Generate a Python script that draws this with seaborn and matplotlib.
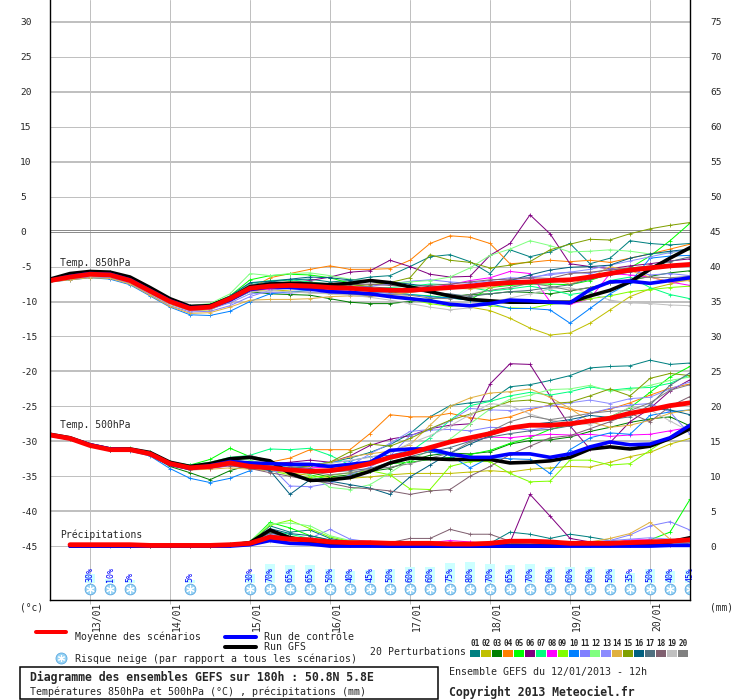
import numpy as np
import pandas as pd
import matplotlib
matplotlib.use("Agg")
import matplotlib.pyplot as plt
from matplotlib.lines import Line2D
from matplotlib.patches import Rectangle
import seaborn as sns

nan = np.nan
hours = list(range(0, 193, 6))   # 12/01 12h -> 20/01 12h, every 6 h
day_ticks = [12, 36, 60, 84, 108, 132, 156, 180]
day_labels = ["13/01", "14/01", "15/01", "16/01", "17/01", "18/01", "19/01", "20/01"]

member_names = ["%02d" % k for k in range(1, 21)]
member_colors = ["#008080", "#c0c000", "#008000", "#ff8000", "#00ff00", "#800080", "#00ff80",
                 "#ff00ff", "#80ff00", "#0080ff", "#8080ff", "#80ff80", "#8c8cff", "#e0b040",
                 "#80a000", "#006080", "#507080", "#806070", "#c0c0c0", "#808080"]

# ---------------- Temp 850 hPa (deg C) ----------------
t850_mean = [-7.0,-6.5,-6.1,-6.2,-7.0,-8.5,-10.0,-11.0,-10.8,-9.6,-8.1,-7.8,-7.7,-7.8,-8.0,-8.1,-8.3,-8.4,-8.4,-8.2,-8.0,-7.8,-7.5,-7.3,-7.2,-7.0,-6.9,-6.5,-6.0,-5.5,-5.2,-4.9,-4.7]
t850_ctrl = [-7.0,-6.4,-6.0,-6.1,-6.9,-8.4,-9.9,-10.9,-10.8,-9.8,-8.3,-7.9,-8.0,-8.2,-8.6,-8.7,-8.9,-9.3,-9.6,-9.9,-10.4,-10.6,-10.3,-9.8,-9.9,-10.1,-10.2,-8.3,-7.2,-7.1,-7.4,-7.0,-6.6]
t850_gfs = [-6.8,-6.0,-5.7,-5.8,-6.5,-8.0,-9.6,-10.7,-10.6,-9.5,-7.9,-7.5,-7.4,-7.5,-7.6,-7.4,-7.0,-7.3,-7.9,-8.6,-9.2,-9.7,-9.9,-10.1,-10.1,-10.1,-10.1,-9.2,-8.4,-7.2,-5.4,-3.8,-2.3]
t850_members = [
    [-6.9,-6.2,-5.8,-5.9,-6.7,-8.2,-9.8,-10.8,-10.5,-9.3,-7.6,-7.2,-6.9,-6.8,-7.2,-7.0,-6.5,-6.3,-5.0,-3.6,-3.3,-4.3,-6.0,-2.6,-3.6,-2.9,-1.7,-4.6,-3.8,-1.3,-1.7,-1.9,-1.7],
    [-7.1,-6.7,-6.4,-6.5,-7.3,-8.8,-10.4,-11.3,-11.2,-10.0,-8.5,-8.3,-8.5,-8.7,-8.9,-9.0,-8.8,-9.2,-9.4,-10.0,-10.5,-10.8,-11.3,-12.4,-13.8,-14.8,-14.5,-13.1,-11.2,-9.3,-8.2,-7.5,-6.8],
    [-7.0,-6.6,-6.3,-6.4,-7.2,-8.6,-10.1,-11.1,-11.0,-9.9,-8.6,-8.9,-9.0,-9.1,-9.6,-10.1,-10.3,-10.3,-10.0,-9.6,-9.3,-9.0,-8.9,-8.6,-8.7,-8.9,-8.5,-8.0,-7.4,-7.0,-6.4,-5.9,-5.6],
    [-7.0,-6.6,-6.2,-6.3,-7.1,-8.5,-10.1,-11.0,-10.9,-9.7,-8.2,-6.6,-6.0,-5.4,-4.9,-5.4,-5.4,-5.3,-4.1,-1.7,-0.6,-0.8,-1.7,-4.6,-4.4,-4.1,-4.3,-4.1,-4.4,-3.8,-3.2,-2.5,-1.8],
    [-6.8,-6.3,-6.0,-6.0,-6.8,-8.1,-9.7,-10.6,-10.4,-9.2,-6.9,-6.3,-6.1,-6.2,-6.6,-7.4,-8.0,-8.6,-9.0,-9.2,-9.5,-9.8,-8.0,-7.7,-7.5,-7.5,-7.6,-7.0,-6.0,-5.2,-3.5,-1.3,1.2],
    [-7.0,-6.5,-6.1,-6.2,-7.0,-8.5,-10.0,-10.9,-10.7,-9.5,-8.0,-7.6,-7.3,-7.0,-6.5,-5.8,-5.6,-4.1,-5.0,-6.1,-6.5,-6.4,-3.4,-1.7,2.4,-0.3,-4.6,-5.0,-5.3,-4.9,-4.6,-4.2,-3.9],
    [-6.9,-6.4,-6.0,-6.1,-6.9,-8.4,-9.9,-10.9,-10.6,-9.3,-7.4,-7.0,-6.9,-7.2,-7.5,-7.9,-8.2,-8.0,-7.8,-7.5,-7.6,-8.0,-8.5,-8.2,-7.8,-8.3,-9.0,-8.6,-7.0,-6.5,-8.0,-9.0,-9.6],
    [-7.1,-6.6,-6.2,-6.3,-7.2,-8.7,-10.2,-11.2,-11.0,-9.9,-8.4,-8.2,-8.0,-8.0,-8.4,-8.3,-8.2,-8.5,-8.3,-8.0,-7.6,-7.0,-6.6,-5.7,-6.0,-10.0,-10.4,-9.6,-6.0,-6.2,-6.5,-7.2,-7.7],
    [-6.9,-6.5,-6.2,-6.2,-7.0,-8.4,-10.0,-11.0,-10.7,-9.4,-7.8,-7.5,-7.8,-8.2,-8.5,-8.7,-8.9,-9.3,-9.7,-10.3,-10.7,-10.5,-10.6,-10.9,-11.0,-10.4,-10.2,-9.6,-9.2,-8.6,-8.3,-8.0,-7.8],
    [-7.2,-6.9,-6.6,-6.8,-7.6,-9.2,-10.8,-11.9,-12.0,-11.4,-10.0,-8.9,-8.6,-8.4,-8.5,-8.6,-8.7,-8.8,-9.0,-9.3,-9.5,-9.8,-10.3,-11.0,-11.0,-11.2,-13.1,-11.0,-8.9,-7.3,-3.8,-3.5,-3.4],
    [-7.2,-6.8,-6.5,-6.6,-7.4,-9.0,-10.6,-11.5,-11.4,-10.6,-9.3,-8.4,-8.1,-8.0,-8.2,-8.0,-7.8,-7.5,-7.1,-6.9,-7.2,-7.4,-7.0,-6.6,-6.7,-6.0,-5.8,-6.0,-5.3,-5.5,-6.2,-6.0,-6.3],
    [-6.8,-6.2,-5.8,-5.8,-6.6,-8.0,-9.6,-10.6,-10.3,-8.9,-6.0,-6.3,-6.0,-5.9,-6.3,-6.8,-7.1,-7.4,-7.2,-7.0,-6.5,-5.2,-3.4,-2.5,-1.3,-2.0,-2.9,-2.8,-2.6,-2.8,-3.2,-3.0,-2.6],
    [-7.1,-6.7,-6.4,-6.5,-7.3,-8.8,-10.3,-11.3,-11.1,-10.2,-8.9,-8.7,-8.8,-8.6,-8.8,-9.0,-9.1,-8.9,-8.7,-8.4,-8.0,-7.6,-7.2,-7.0,-6.5,-6.2,-5.8,-5.4,-4.8,-4.2,-3.6,-3.0,-2.5],
    [-7.2,-6.9,-6.6,-6.7,-7.5,-9.1,-10.7,-11.7,-11.6,-10.8,-9.8,-9.7,-9.7,-9.6,-9.3,-9.2,-9.3,-9.0,-8.7,-8.3,-8.1,-8.2,-8.0,-7.4,-7.2,-6.8,-7.5,-6.6,-5.0,-5.6,-6.5,-7.2,-7.0],
    [-7.0,-6.5,-6.1,-6.2,-7.0,-8.4,-9.9,-10.9,-10.6,-9.4,-7.8,-7.4,-7.2,-7.3,-7.6,-7.8,-7.6,-7.3,-6.6,-3.3,-4.1,-4.4,-5.2,-4.8,-4.3,-2.6,-1.8,-1.1,-1.2,-0.3,0.4,0.9,1.3],
    [-6.9,-6.4,-6.0,-6.1,-6.9,-8.3,-9.8,-10.8,-10.5,-9.2,-7.3,-7.1,-6.8,-6.5,-6.6,-6.9,-7.0,-7.2,-7.5,-7.9,-8.0,-7.8,-7.5,-7.0,-6.2,-5.5,-5.1,-5.0,-4.8,-3.8,-3.2,-2.8,-2.5],
    [-6.8,-6.2,-5.8,-5.9,-6.7,-8.2,-9.8,-10.7,-10.5,-9.3,-7.7,-7.3,-7.5,-7.7,-7.9,-8.0,-7.9,-8.1,-8.4,-8.7,-8.9,-9.3,-8.9,-8.6,-8.4,-8.0,-7.6,-6.8,-6.2,-5.8,-5.0,-4.3,-3.6],
    [-6.9,-6.3,-5.9,-6.0,-6.8,-8.3,-9.9,-10.8,-10.6,-9.4,-7.9,-7.7,-7.5,-7.4,-7.7,-7.6,-7.5,-7.7,-7.9,-7.7,-7.5,-7.2,-6.9,-6.8,-6.6,-6.7,-6.0,-5.8,-5.5,-5.2,-4.9,-5.0,-4.6],
    [-7.1,-6.7,-6.3,-6.4,-7.2,-8.7,-10.3,-11.2,-11.0,-9.9,-8.6,-8.5,-8.6,-8.8,-8.9,-9.1,-9.4,-9.8,-10.3,-10.8,-11.2,-10.9,-10.2,-9.5,-8.9,-8.2,-8.0,-8.8,-9.8,-10.2,-10.3,-10.5,-10.6],
    [-6.8,-6.1,-5.7,-5.8,-6.6,-8.1,-9.7,-10.7,-10.5,-9.4,-7.6,-7.6,-7.8,-8.3,-8.5,-8.9,-9.2,-9.0,-9.1,-9.5,-9.6,-9.0,-8.4,-8.0,-7.4,-7.8,-8.4,-8.0,-7.4,-6.8,-6.5,-6.6,-6.4],
]

# ---------------- Temp 500 hPa (deg C) ----------------
t500_mean = [-29.1,-29.6,-30.6,-31.2,-31.2,-31.8,-33.2,-33.8,-33.6,-33.1,-33.6,-33.8,-34.1,-34.3,-34.2,-33.8,-33.2,-32.3,-31.7,-30.9,-30.1,-29.5,-28.9,-28.1,-27.7,-27.7,-27.5,-27.1,-26.7,-26.0,-25.5,-24.9,-24.5]
t500_ctrl = [-29.1,-29.6,-30.5,-31.1,-31.2,-31.8,-33.3,-33.9,-33.5,-32.9,-33.1,-33.2,-33.3,-33.3,-33.6,-33.3,-33.0,-31.3,-31.1,-31.1,-31.8,-32.3,-32.3,-31.8,-31.8,-32.3,-31.8,-30.8,-30.1,-30.5,-30.4,-29.5,-27.7]
t500_gfs = [-29.0,-29.5,-30.5,-31.1,-31.1,-31.6,-33.0,-33.6,-33.2,-32.5,-32.3,-32.8,-34.6,-35.6,-35.5,-35.2,-34.3,-33.1,-32.4,-32.5,-32.6,-32.6,-32.6,-33.1,-33.0,-32.8,-32.3,-31.1,-30.8,-31.1,-30.7,-29.6,-28.2]
t500_members = [
    [-29.0,-29.5,-30.5,-31.1,-31.1,-31.7,-33.1,-33.5,-33.2,-32.6,-33.0,-33.3,-33.8,-33.5,-33.0,-32.4,-31.6,-30.5,-28.9,-26.5,-24.9,-24.5,-24.2,-22.2,-21.9,-21.3,-20.6,-19.5,-19.3,-19.2,-18.4,-19.0,-18.8],
    [-29.1,-29.7,-30.7,-31.3,-31.3,-31.9,-33.4,-34.0,-33.8,-33.4,-33.9,-34.2,-34.5,-34.9,-35.2,-35.3,-35.1,-34.8,-34.6,-34.6,-34.6,-34.4,-34.2,-34.4,-34.0,-33.8,-33.6,-33.7,-33.0,-32.2,-31.6,-30.4,-29.6],
    [-29.1,-29.6,-30.6,-31.2,-31.2,-31.9,-33.6,-34.5,-35.5,-34.2,-33.4,-33.0,-33.6,-34.5,-35.1,-34.8,-34.3,-33.9,-32.8,-32.0,-31.7,-31.8,-31.5,-30.4,-29.9,-29.8,-29.4,-28.6,-28.0,-27.3,-26.8,-26.5,-27.8],
    [-29.1,-29.6,-30.6,-31.2,-31.2,-31.8,-33.2,-33.7,-33.3,-32.7,-33.0,-33.0,-32.4,-31.2,-31.2,-31.2,-28.9,-26.2,-26.5,-26.5,-26.0,-26.6,-27.0,-26.5,-25.5,-24.8,-25.4,-26.0,-25.4,-24.5,-23.4,-22.4,-21.8],
    [-29.0,-29.5,-30.5,-31.0,-31.0,-31.6,-33.0,-33.4,-32.6,-31.0,-32.2,-33.0,-33.3,-34.8,-35.5,-35.0,-34.3,-33.2,-33.0,-32.6,-32.3,-31.9,-31.3,-30.3,-29.5,-28.3,-27.6,-26.9,-26.5,-25.2,-23.0,-20.8,-19.3],
    [-29.1,-29.6,-30.6,-31.2,-31.2,-31.8,-33.2,-33.7,-33.4,-32.8,-33.3,-33.2,-33.0,-32.7,-33.0,-32.1,-30.6,-29.7,-29.2,-28.2,-27.7,-27.5,-21.8,-18.9,-19.0,-23.5,-27.8,-31.1,-30.2,-27.2,-25.3,-22.8,-21.2],
    [-29.0,-29.5,-30.5,-31.1,-31.1,-31.7,-33.0,-33.4,-33.0,-32.3,-32.0,-31.1,-31.2,-31.0,-32.0,-33.4,-32.8,-32.5,-31.5,-29.5,-27.0,-24.9,-24.3,-23.5,-23.0,-23.4,-22.9,-22.2,-22.7,-22.4,-22.3,-21.7,-20.5],
    [-29.1,-29.6,-30.6,-31.2,-31.2,-31.8,-33.3,-34.1,-33.9,-33.5,-33.8,-33.8,-34.0,-33.8,-33.7,-33.4,-33.0,-32.1,-31.7,-30.8,-30.0,-30.0,-29.4,-29.5,-29.2,-29.0,-29.1,-29.0,-29.3,-29.1,-29.0,-28.5,-28.0],
    [-29.1,-29.7,-30.7,-31.3,-31.3,-31.9,-33.3,-33.9,-33.6,-33.3,-33.9,-34.2,-34.8,-35.2,-34.9,-34.5,-34.2,-34.8,-36.8,-36.9,-33.6,-32.9,-32.9,-34.6,-35.8,-35.7,-32.7,-32.7,-33.4,-33.2,-31.3,-29.4,-27.5],
    [-29.2,-29.7,-30.7,-31.3,-31.4,-32.1,-33.9,-35.3,-35.9,-35.3,-34.2,-33.2,-33.8,-33.4,-33.0,-32.8,-32.2,-32.0,-31.3,-31.5,-32.0,-33.8,-32.3,-32.5,-32.6,-34.6,-31.2,-29.5,-28.8,-29.0,-26.3,-25.8,-25.5],
    [-29.1,-29.6,-30.6,-31.2,-31.2,-31.8,-33.2,-33.9,-33.6,-33.0,-33.2,-33.5,-36.4,-36.5,-36.0,-34.8,-33.7,-32.1,-29.2,-28.4,-28.3,-28.5,-28.0,-28.1,-28.4,-28.0,-27.5,-26.0,-25.3,-24.8,-24.6,-25.8,-29.0],
    [-29.0,-29.5,-30.5,-31.1,-31.1,-31.6,-33.1,-33.6,-33.0,-32.4,-32.7,-33.4,-34.0,-34.8,-36.6,-36.9,-36.2,-34.5,-32.7,-31.3,-29.7,-27.5,-25.4,-24.0,-23.4,-22.6,-22.5,-22.0,-22.8,-22.6,-22.0,-21.3,-20.8],
    [-29.1,-29.6,-30.6,-31.2,-31.3,-31.9,-33.4,-34.0,-33.7,-33.2,-33.6,-34.3,-34.2,-34.4,-34.2,-33.5,-31.8,-30.3,-28.6,-28.3,-27.1,-25.3,-25.5,-25.6,-25.3,-24.9,-24.5,-24.1,-24.6,-23.9,-23.7,-22.5,-21.5],
    [-29.2,-29.7,-30.7,-31.3,-31.3,-31.9,-33.4,-34.1,-34.0,-33.8,-34.0,-34.1,-34.0,-33.6,-33.0,-32.2,-31.8,-31.4,-30.5,-27.7,-25.0,-23.8,-23.1,-22.9,-22.5,-23.7,-25.3,-27.2,-28.0,-27.7,-27.0,-26.0,-25.5],
    [-29.0,-29.5,-30.5,-31.1,-31.1,-31.7,-33.1,-33.6,-33.3,-32.9,-33.3,-33.6,-33.9,-33.5,-33.0,-31.5,-30.4,-30.7,-29.6,-28.2,-27.0,-26.1,-25.3,-24.3,-24.1,-24.6,-24.4,-23.5,-22.5,-23.5,-21.0,-20.3,-20.6],
    [-29.1,-29.6,-30.6,-31.2,-31.2,-31.8,-33.3,-33.9,-33.7,-33.3,-33.5,-34.2,-37.6,-35.5,-35.7,-36.2,-36.7,-37.6,-35.1,-33.4,-31.7,-30.4,-29.2,-28.2,-27.6,-27.3,-26.9,-26.3,-26.6,-26.0,-25.3,-25.5,-26.2],
    [-29.1,-29.6,-30.6,-31.2,-31.2,-31.8,-33.2,-33.8,-33.5,-32.9,-32.2,-32.9,-33.6,-33.9,-34.4,-34.2,-33.9,-33.0,-32.2,-31.5,-30.9,-30.0,-29.4,-28.9,-28.5,-28.3,-27.8,-27.2,-26.9,-26.5,-24.8,-22.0,-20.2],
    [-29.1,-29.6,-30.6,-31.2,-31.2,-31.8,-33.3,-33.9,-33.8,-33.5,-33.9,-34.5,-35.0,-35.6,-36.0,-36.6,-36.8,-37.1,-37.6,-37.1,-36.9,-35.0,-33.6,-31.9,-30.7,-29.5,-29.2,-28.2,-27.2,-26.0,-27.2,-25.0,-23.6],
    [-29.0,-29.5,-30.5,-31.1,-31.1,-31.7,-33.1,-33.7,-33.4,-32.8,-33.1,-33.3,-33.6,-33.4,-33.2,-32.7,-32.3,-31.6,-30.3,-29.2,-27.8,-26.2,-24.6,-24.9,-26.1,-27.0,-27.3,-27.6,-26.6,-25.1,-25.5,-27.1,-28.6],
    [-29.1,-29.6,-30.6,-31.2,-31.2,-31.8,-33.3,-33.7,-33.2,-32.6,-32.0,-32.8,-33.6,-34.3,-34.8,-34.5,-34.0,-33.7,-33.2,-32.4,-31.7,-30.1,-28.6,-27.2,-26.4,-26.9,-26.5,-26.0,-25.7,-25.6,-24.5,-22.7,-21.9],
]

# ---------------- Precipitation (mm) ----------------
pr_mean = [nan,0.2,0.2,0.2,0.2,0.1,0.1,0.1,0.1,0.2,0.4,1.3,1.0,0.9,0.6,0.5,0.5,0.4,0.4,0.4,0.3,0.3,0.4,0.7,0.7,0.6,0.4,0.4,0.4,0.5,0.6,0.7,0.9]
pr_ctrl = [nan,0.0,0.0,0.0,0.0,0.0,0.0,0.0,0.0,0.0,0.2,0.8,0.4,0.3,0.0,0.0,0.0,0.0,0.0,0.0,0.0,0.0,0.0,0.0,0.0,0.0,0.0,0.0,0.0,0.0,0.0,0.1,0.1]
pr_gfs = [nan,0.0,0.0,0.0,0.0,0.0,0.0,0.0,0.0,0.1,0.5,2.3,1.2,0.6,0.3,0.1,0.1,0.0,0.0,0.0,0.0,0.0,0.0,0.0,0.0,0.0,0.1,0.1,0.1,0.2,0.3,0.6,1.2]
pr_members = [
    [nan,0.1,0.1,0.1,0.1,0.1,0.0,0.0,0.1,0.2,0.4,2.9,2.0,2.3,1.1,0.6,0.5,0.4,0.3,0.3,0.3,0.5,0.4,2.0,1.7,1.1,1.7,1.3,0.8,0.5,0.4,0.3,0.5],
    [nan,0.2,0.1,0.1,0.0,0.0,0.0,0.0,0.0,0.1,0.5,1.2,0.8,0.5,0.3,0.2,0.2,0.1,0.1,0.1,0.1,0.1,0.2,0.3,0.2,0.2,0.1,0.1,0.2,0.3,0.3,0.4,0.5],
    [nan,0.2,0.1,0.1,0.1,0.1,0.0,0.0,0.1,0.2,0.3,1.6,1.2,0.9,0.6,0.4,0.4,0.3,0.3,0.2,0.2,0.2,0.3,0.2,0.2,0.1,0.2,0.2,0.3,0.2,0.3,0.5,1.2],
    [nan,0.1,0.1,0.1,0.0,0.0,0.0,0.0,0.0,0.1,0.2,1.0,0.7,0.5,0.3,0.3,0.2,0.2,0.2,0.2,0.1,0.1,0.1,0.1,0.1,0.2,0.2,0.5,0.6,0.8,0.6,0.4,0.6],
    [nan,0.2,0.2,0.1,0.1,0.1,0.1,0.0,0.1,0.3,0.6,3.4,2.6,1.5,0.8,0.6,0.5,0.4,0.4,0.3,0.3,0.3,0.3,0.2,0.2,0.3,0.4,0.5,0.4,0.5,0.9,2.0,6.7],
    [nan,0.1,0.1,0.1,0.1,0.0,0.0,0.0,0.0,0.1,0.3,1.4,1.0,0.8,0.5,0.4,0.3,0.3,0.2,0.2,0.2,0.3,0.4,0.5,7.4,4.3,1.1,0.6,0.4,0.3,0.3,0.2,0.3],
    [nan,0.2,0.1,0.1,0.1,0.1,0.0,0.0,0.1,0.2,0.5,2.2,1.7,1.1,0.7,0.5,0.4,0.4,0.3,0.3,0.2,0.2,0.2,0.3,0.3,0.4,0.3,0.2,0.3,0.4,0.5,0.7,0.8],
    [nan,0.1,0.1,0.1,0.0,0.0,0.0,0.0,0.0,0.1,0.3,1.3,0.9,0.7,0.5,0.4,0.4,0.3,0.3,0.5,0.8,0.6,0.3,0.2,0.3,0.2,0.2,0.3,0.4,0.9,0.9,0.6,0.5],
    [nan,0.2,0.1,0.1,0.1,0.1,0.0,0.0,0.1,0.2,0.6,3.0,3.7,2.5,1.3,0.7,0.5,0.4,0.3,0.3,0.3,0.2,0.2,0.2,0.3,0.3,0.2,0.2,0.3,0.3,0.4,0.6,0.7],
    [nan,0.1,0.1,0.0,0.0,0.0,0.0,0.0,0.0,0.1,0.2,0.9,0.6,0.4,0.3,0.2,0.2,0.2,0.1,0.1,0.1,0.1,0.1,0.2,0.2,0.2,0.1,0.1,0.2,0.2,0.3,0.3,0.4],
    [nan,0.1,0.1,0.1,0.0,0.0,0.0,0.0,0.1,0.2,0.4,1.8,1.3,1.1,2.4,1.0,0.6,0.5,0.4,0.3,0.3,0.3,0.4,0.3,0.3,0.3,0.4,0.5,0.8,1.6,2.9,3.5,2.3],
    [nan,0.2,0.2,0.1,0.1,0.1,0.1,0.1,0.1,0.3,0.7,3.2,3.3,2.9,1.5,0.8,0.6,0.5,0.4,0.4,0.3,0.3,0.3,0.3,0.3,0.3,0.3,0.3,0.4,0.5,0.6,0.7,0.8],
    [nan,0.1,0.1,0.1,0.1,0.0,0.0,0.0,0.0,0.1,0.3,1.5,1.1,0.8,0.6,0.4,0.3,0.3,0.2,0.2,0.2,0.2,0.3,0.3,0.4,0.3,0.4,0.6,0.8,1.0,1.2,1.0,0.9],
    [nan,0.1,0.1,0.1,0.0,0.0,0.0,0.0,0.0,0.1,0.2,1.1,0.8,0.6,0.4,0.3,0.2,0.2,0.2,0.2,0.2,0.2,0.3,0.2,0.2,0.3,0.3,0.6,1.1,1.8,3.4,1.0,0.6],
    [nan,0.2,0.1,0.1,0.1,0.0,0.0,0.0,0.0,0.2,0.5,2.0,1.4,1.0,0.6,0.4,0.4,0.3,0.3,0.2,0.2,0.2,0.2,0.3,0.3,0.2,0.2,0.3,0.3,0.4,0.5,0.6,0.8],
    [nan,0.1,0.1,0.1,0.1,0.0,0.0,0.0,0.0,0.2,0.5,2.5,1.8,1.5,0.9,0.5,0.5,0.4,0.3,0.3,0.3,0.2,0.2,0.3,0.3,0.3,0.2,0.2,0.3,0.3,0.4,0.4,0.5],
    [nan,0.1,0.1,0.1,0.0,0.0,0.0,0.0,0.0,0.1,0.4,1.9,1.3,0.9,0.6,0.4,0.3,0.3,0.2,0.2,0.2,0.2,0.2,0.2,0.3,0.2,0.2,0.2,0.3,0.3,0.4,0.5,0.9],
    [nan,0.1,0.1,0.1,0.0,0.0,0.0,0.0,0.0,0.1,0.3,1.4,1.0,0.7,0.5,0.4,0.4,0.5,1.1,1.1,2.4,1.7,1.7,0.7,0.4,0.3,0.3,0.2,0.2,0.3,0.3,0.4,0.4],
    [nan,0.1,0.1,0.0,0.0,0.0,0.0,0.0,0.0,0.1,0.2,0.8,0.6,0.4,0.3,0.2,0.2,0.2,0.1,0.1,0.1,0.2,0.2,0.2,0.3,0.2,0.3,0.5,0.6,0.7,0.5,0.4,0.5],
    [nan,0.1,0.1,0.1,0.0,0.0,0.0,0.0,0.0,0.1,0.3,1.6,1.2,0.8,0.5,0.3,0.3,0.3,0.2,0.2,0.2,0.2,0.2,0.2,0.2,0.2,0.2,0.2,0.3,0.3,0.4,0.5,0.6],
]

# ---------------- Snow risk (% of scenarios) ----------------
snow_hours = [12, 18, 24, 42, 60, 66, 72, 78, 84, 90, 96, 102, 108, 114, 120, 126, 132, 138,
              144, 150, 156, 162, 168, 174, 180, 186, 192]
snow_pct = [30, 10, 5, 5, 30, 70, 65, 65, 50, 40, 45, 50, 60, 60, 75, 80, 70, 65, 70, 60,
            60, 60, 50, 35, 50, 40, 45]

# ======================================================================
W, H = 740, 700
sns.set_theme(style="white")
plt.rcParams["font.family"] = ["DejaVu Sans Mono", "DejaVu Sans"]
PX = 72.0 / 100.0  # points per pixel at dpi 100

fig = plt.figure(figsize=(W / 100, H / 100), dpi=100)
fig.patch.set_facecolor("white")

def fx(x):
    return x / W

def fy(y):
    return 1 - y / H

ax = fig.add_axes([fx(50), fy(600), 640 / W, 600 / H])
YMIN, YMAX = -52.71, 33.14
ax.set_xlim(0, 192)
ax.set_ylim(YMIN, YMAX)
ax.set_facecolor("white")

# grid
for v in range(-45, 31, 5):
    if v == 0:
        continue
    thick = (v % 10 == 0)
    ax.axhline(v, color="#c0c0c0", lw=(2.0 if thick else 1.0) * PX, zorder=0.5)
ax.axhline(0.0, color="#8c8c8c", lw=1.0 * PX, zorder=0.6)
ax.axhline(0.3, color="#8c8c8c", lw=1.0 * PX, zorder=0.6)
for h in day_ticks:
    ax.axvline(h, color="#c0c0c0", lw=1.0 * PX, zorder=0.5)

def long_frame(members):
    rows = []
    for name, vals in zip(member_names, members):
        for hh, v in zip(hours, vals):
            rows.append((hh, v, name))
    return pd.DataFrame(rows, columns=["hour", "value", "member"])

palette = dict(zip(member_names, member_colors))

def draw_members(axis, members):
    n0 = len(axis.lines)
    sns.lineplot(data=long_frame(members), x="hour", y="value", hue="member",
                 hue_order=member_names, palette=palette, lw=1.0 * PX,
                 marker="+", markersize=4 * PX, estimator=None, legend=False,
                 ax=axis, zorder=2)
    for ln in axis.lines[n0:]:
        ln.set_markeredgecolor(ln.get_color())
        ln.set_markeredgewidth(0.8 * PX)

def draw_main(axis, mean, ctrl, gfs):
    sns.lineplot(x=hours, y=gfs, color="black", lw=3.6 * PX, ax=axis, zorder=3)
    sns.lineplot(x=hours, y=ctrl, color="#0000ff", lw=3.6 * PX, ax=axis, zorder=3.5)
    sns.lineplot(x=hours, y=mean, color="#ff0000", lw=4.8 * PX, ax=axis, zorder=4)

draw_members(ax, t850_members)
draw_main(ax, t850_mean, t850_ctrl, t850_gfs)
draw_members(ax, t500_members)
draw_main(ax, t500_mean, t500_ctrl, t500_gfs)

# precipitation on the right (mm) axis
ax2 = ax.twinx()
ax2.set_ylim(YMIN + 45, YMAX + 45)
ax2.patch.set_visible(False)
draw_members(ax2, pr_members)
draw_main(ax2, pr_mean, pr_ctrl, pr_gfs)

# snow risk bars, labels and icons (main axis, below the -45 line)
px2v = 1 / 7.0
bar_bottom = -45 - 37 * px2v
bar_heights = [(2 + 0.24 * p) * px2v for p in snow_pct]
ax.bar(snow_hours, bar_heights, bottom=bar_bottom, width=3.0, color="#ccffff",
       edgecolor="none", zorder=1)
for hh, p in zip(snow_hours, snow_pct):
    ax.text(hh, -45 - 36 * px2v, "%d%%" % p, rotation=90, ha="center", va="bottom",
            fontsize=6, color="#0000ff", zorder=5)
icon_y = -45 - 43 * px2v
ax.scatter(snow_hours, [icon_y] * len(snow_hours), s=60, color="#9ad4f4",
           edgecolor="#5aa8e0", linewidth=0.6, zorder=5)
ax.scatter(snow_hours, [icon_y] * len(snow_hours), s=30, marker=(6, 2, 0),
           color="white", linewidth=0.8, zorder=6)

# in-plot labels
ax.text(3, -45 + (546 - 262) / 7, "Temp. 850hPa", fontsize=7, va="center", ha="left", zorder=7)
ax.text(3, -45 + (546 - 425) / 7, "Temp. 500hPa", fontsize=7, va="center", ha="left", zorder=7)
ax.text(3, -45 + (546 - 535) / 7, "Précipitations", fontsize=7, va="center", ha="left", zorder=7)

# axes styling
for a in (ax, ax2):
    a.set_xlabel("")
    a.set_ylabel("")
    a.spines["top"].set_visible(False)
    for s in ("left", "right", "bottom"):
        a.spines[s].set_color("black")
        a.spines[s].set_linewidth(1.2 * PX)

ax.set_yticks(list(range(-45, 31, 5)))
ax.set_yticklabels([str(v) for v in range(-45, 31, 5)], fontsize=6.8)
ax.tick_params(axis="y", length=0, pad=30 * PX)
for lab in ax.get_yticklabels():
    lab.set_horizontalalignment("left")
ax2.set_yticks(list(range(0, 76, 5)))
ax2.set_yticklabels([str(v) for v in range(0, 76, 5)], fontsize=6.8)
ax2.tick_params(axis="y", length=0, pad=20 * PX)

ax.set_xticks(day_ticks)
ax.set_xticklabels([""] * len(day_ticks))
ax.tick_params(axis="x", direction="out", length=4 * PX, width=1.0 * PX, color="#c0c0c0",
               bottom=True)
ax2.tick_params(axis="x", bottom=False, labelbottom=False)
for hh, lab in zip(day_ticks, day_labels):
    ax.text(hh + 2.1, YMIN - 2 * px2v, lab, rotation=90, ha="center", va="top",
            fontsize=7, clip_on=False)

# units
fig.text(fx(20), fy(607), "(°c)", fontsize=6.9, va="center", ha="left")
fig.text(fx(710), fy(607), "(mm)", fontsize=6.9, va="center", ha="left")

# legend
fig.add_artist(Line2D([fx(36), fx(66)], [fy(632), fy(632)], color="#ff0000", lw=4 * PX))
fig.text(fx(75), fy(637), "Moyenne des scénarios", fontsize=7.1, va="center", ha="left")
fig.add_artist(Line2D([fx(225), fx(256)], [fy(637), fy(637)], color="#0000ff", lw=4 * PX))
fig.text(fx(264), fy(637), "Run de contrôle", fontsize=7.1, va="center", ha="left")
fig.add_artist(Line2D([fx(225), fx(256)], [fy(647), fy(647)], color="black", lw=4 * PX))
fig.text(fx(264), fy(647), "Run GFS", fontsize=7.1, va="center", ha="left")
fig.add_artist(Line2D([fx(60.5)], [fy(657.5)], marker="o", markersize=11 * PX,
                      markerfacecolor="#9ad4f4", markeredgecolor="#5aa8e0", mew=0.6, ls="none"))
fig.add_artist(Line2D([fx(60.5)], [fy(657.5)], marker=(6, 2, 0), markersize=7 * PX,
                      markeredgecolor="white", mew=0.8, ls="none"))
fig.text(fx(75), fy(659), "Risque neige (par rapport a tous les scénarios)", fontsize=7.1,
         va="center", ha="left")

fig.text(fx(370), fy(652), "20 Perturbations", fontsize=7.1, va="center", ha="left")
for k, (name, col) in enumerate(zip(member_names, member_colors)):
    x0 = 470 + 10.95 * k
    fig.add_artist(Rectangle((fx(x0), fy(656.5)), 10 / W, 6.5 / H, transform=fig.transFigure,
                             facecolor=col, edgecolor="none"))
    fig.text(fx(x0 + 5), fy(644), name, fontsize=5.5, va="center", ha="center",
             fontweight="bold")

# footer box
fig.add_artist(Rectangle((fx(20), fy(699)), 418 / W, 32 / H, transform=fig.transFigure,
                         facecolor="none", edgecolor="black", lw=1.5 * PX))
fig.text(fx(30), fy(677), "Diagramme des ensembles GEFS sur 180h : 50.8N 5.8E",
         fontsize=8.3, fontweight="bold", va="center", ha="left")
fig.text(fx(30), fy(692), "Températures 850hPa et 500hPa (°C) , précipitations (mm)",
         fontsize=7.2, va="center", ha="left")
fig.text(fx(449), fy(672), "Ensemble GEFS du 12/01/2013 - 12h", fontsize=7.2,
         va="center", ha="left")
fig.text(fx(449), fy(692), "Copyright 2013 Meteociel.fr", fontsize=8.3, fontweight="bold",
         va="center", ha="left")

fig.savefig("out.png", dpi=100, facecolor="white")
